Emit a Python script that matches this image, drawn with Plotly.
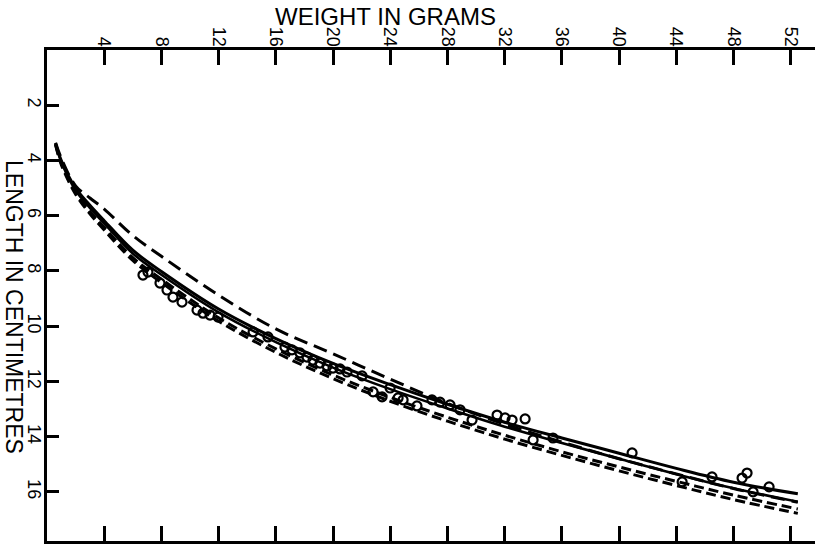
import plotly.graph_objects as go

# ---- data ----
weight_grid = [0.6, 1, 2, 3, 4, 6, 8, 12, 16, 20, 24, 28, 32, 36, 40, 44, 48, 52.5]

len_solid_a = [3.38, 4.0, 5.0, 5.62, 6.18, 7.25, 8.02, 9.38, 10.45, 11.35, 12.12, 12.83, 13.48, 14.05, 14.6, 15.15, 15.65, 16.07]
len_solid_b = [3.4, 4.05, 5.08, 5.72, 6.28, 7.37, 8.14, 9.5, 10.58, 11.5, 12.28, 12.98, 13.64, 14.23, 14.8, 15.36, 15.87, 16.36]
len_dash_c = [3.42, 4.1, 5.15, 5.85, 6.42, 7.52, 8.3, 9.7, 10.82, 11.77, 12.58, 13.3, 13.95, 14.55, 15.1, 15.62, 16.12, 16.62]
len_dash_d = [3.44, 4.15, 5.22, 5.93, 6.52, 7.62, 8.42, 9.82, 10.95, 11.9, 12.72, 13.44, 14.09, 14.68, 15.24, 15.77, 16.28, 16.78]
len_dash_e = [3.36, 3.92, 4.92, 5.36, 5.76, 6.72, 7.47, 8.88, 10.1, 11.0, 11.92, 12.8, 13.55, 14.2, 14.8, 15.35, 15.88, 16.38]

obs_weight = [6.71, 7.06, 7.90, 8.39, 8.81, 9.44, 10.49, 10.91, 11.40, 11.96,
              14.41, 15.45, 16.64, 17.13, 17.69, 18.18, 18.60, 19.09, 19.58, 20.0,
              20.49, 20.98, 22.03, 22.80, 23.43, 23.99, 24.55, 24.90, 25.87, 26.92,
              27.48, 28.18, 28.88, 29.72, 31.47, 32.03, 32.52, 33.43, 33.99, 35.38,
              40.91, 44.41, 46.50, 48.60, 48.95, 49.37, 50.49]
obs_length = [8.15, 8.04, 8.44, 8.69, 8.95, 9.13, 9.42, 9.53, 9.60, 9.67,
              10.21, 10.39, 10.76, 10.86, 10.97, 11.12, 11.23, 11.34, 11.44, 11.52,
              11.55, 11.66, 11.80, 12.38, 12.56, 12.24, 12.60, 12.67, 12.89, 12.67,
              12.75, 12.85, 13.03, 13.40, 13.22, 13.32, 13.40, 13.36, 14.12, 14.05,
              14.59, 15.64, 15.46, 15.50, 15.32, 16.00, 15.82]

x_ticks = [4, 8, 12, 16, 20, 24, 28, 32, 36, 40, 44, 48, 52]
y_ticks = [2, 4, 6, 8, 10, 12, 14, 16]

FONT = "Liberation Sans"
fig = go.Figure()

def curve(y, dash, width=3):
    fig.add_trace(go.Scatter(x=weight_grid, y=y, mode="lines",
                             line=dict(color="black", width=width, dash=dash, shape="spline"),
                             showlegend=False, hoverinfo="skip"))

curve(len_solid_a, "solid")
curve(len_solid_b, "solid", 2.6)
curve(len_dash_c, "10px,5px")
curve(len_dash_d, "10px,5px")
curve(len_dash_e, "14px,7px")

fig.add_trace(go.Scatter(x=obs_weight, y=obs_length, mode="markers",
                         marker=dict(symbol="circle-open", size=9, color="black",
                                     line=dict(width=2.2, color="black")),
                         showlegend=False))

fig.update_layout(
    width=815, height=548,
    margin=dict(l=47, r=0, t=50, b=7),
    paper_bgcolor="white", plot_bgcolor="white",
    font=dict(family=FONT, color="black"),
    xaxis=dict(range=[0, 53.7], side="top", tickvals=x_ticks, ticks="inside",
               ticklen=15, tickwidth=3, tickcolor="black", tickangle=90,
               ticklabelstandoff=-6,
               tickfont=dict(size=18, family=FONT), showline=True, linewidth=3,
               linecolor="black", mirror="ticks", showgrid=False, zeroline=False),
    yaxis=dict(range=[17.78, 0], tickvals=y_ticks, ticks="inside", ticklen=12,
               tickwidth=3, tickcolor="black", tickangle=90,
               ticklabelstandoff=-6,
               tickfont=dict(size=18, family=FONT), showline=True, linewidth=3,
               linecolor="black", showgrid=False, zeroline=False),
    annotations=[
        dict(text="WEIGHT IN GRAMS", xref="paper", yref="paper", x=(385 - 47) / 768,
             y=1.0, yshift=34, showarrow=False, font=dict(size=24, family=FONT),
             xanchor="center", yanchor="middle"),
        dict(text="LENGTH IN CENTIMETRES", xref="paper", yref="paper", x=0, xshift=-33,
             y=1 - (307 - 50) / 491, showarrow=False, textangle=90,
             font=dict(size=23, family=FONT), xanchor="center", yanchor="middle"),
    ],
)

fig.write_html("out.html")
